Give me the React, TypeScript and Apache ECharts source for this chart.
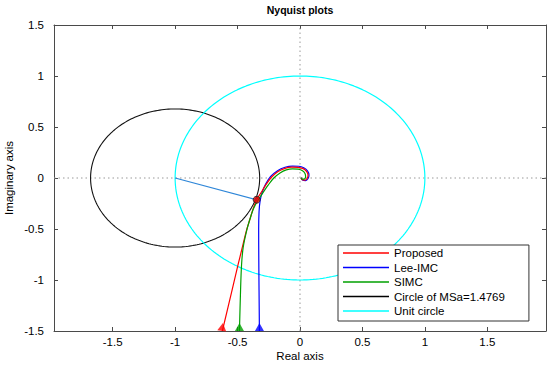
import React, { useEffect, useRef } from "react";
import * as echarts from "echarts";

const FONT = "'Liberation Sans', Arial, sans-serif";

const xTicks = [-1.5, -1, -0.5, 0, 0.5, 1, 1.5];
const legendNames = ["Proposed", "Lee-IMC", "SIMC", "Circle of MSa=1.4769", "Unit circle"];

const msa = 1.4769;
const msaCenter: [number, number] = [-1, 0];
const unitCenter: [number, number] = [0, 0];

const proposed: [number, number][] = [
  [0.008, 0.002], [0.018, -0.016], [0.04, -0.02], [0.058, -0.002], [0.064, 0.03],
  [0.052, 0.065], [0.025, 0.092], [-0.015, 0.105], [-0.065, 0.106], [-0.12, 0.095],
  [-0.175, 0.063], [-0.225, 0.012], [-0.27, -0.06], [-0.31, -0.14], [-0.347, -0.213],
  [-0.375, -0.3], [-0.4, -0.4], [-0.43, -0.52], [-0.466, -0.7], [-0.496, -0.85],
  [-0.544, -1.1], [-0.622, -1.5],
];

const leeImc: [number, number][] = [
  [0.008, 0.002], [0.02, -0.02], [0.045, -0.025], [0.065, -0.005], [0.072, 0.03],
  [0.06, 0.07], [0.03, 0.1], [-0.01, 0.115], [-0.06, 0.117], [-0.12, 0.105],
  [-0.18, 0.072], [-0.235, 0.015], [-0.275, -0.06], [-0.303, -0.14], [-0.32, -0.23],
  [-0.328, -0.33], [-0.331, -0.5], [-0.33, -0.8], [-0.328, -1.1], [-0.325, -1.5],
];

const simc: [number, number][] = [
  [0.008, 0.002], [0.018, -0.012], [0.035, -0.01], [0.045, 0.012], [0.04, 0.045],
  [0.02, 0.072], [-0.015, 0.087], [-0.06, 0.09], [-0.11, 0.08], [-0.16, 0.05],
  [-0.21, 0.0], [-0.255, -0.07], [-0.3, -0.15], [-0.34, -0.225], [-0.372, -0.3],
  [-0.4, -0.4], [-0.428, -0.52], [-0.455, -0.68], [-0.468, -0.85], [-0.476, -1.1],
  [-0.485, -1.5],
];

const msPoint: [number, number] = [-0.347, -0.213];
const arrowY = -1.461;

function circle(c: [number, number], r: number): [number, number][] {
  const pts: [number, number][] = [];
  for (let i = 0; i <= 240; i++) {
    const t = (i / 240) * Math.PI * 2;
    pts.push([c[0] + r * Math.cos(t), c[1] + r * Math.sin(t)]);
  }
  return pts;
}

const AX = "#4a4a4a";

export default function App() {
  const ref = useRef<HTMLDivElement>(null);
  useEffect(() => {
    const chart = echarts.init(ref.current!, null, { renderer: "svg" });
    const axisCommon = {
      type: "value" as const,
      splitLine: { show: false },
      axisLine: { show: true, onZero: false, lineStyle: { color: AX, width: 1 } },
    };
    const lineSeries = (name: string, data: [number, number][], color: string, z = 2) => ({
      name,
      type: "line",
      data,
      showSymbol: false,
      symbol: "none",
      smooth: 0.3,
      z,
      lineStyle: { color, width: 1.2 },
      itemStyle: { color },
      silent: true,
    });
    const option: any = {
      animation: false,
      backgroundColor: "#ffffff",
      textStyle: { fontFamily: FONT },
      grid: { left: 54, right: 4, top: 25, bottom: 35 },
      xAxis: [
        {
          ...axisCommon,
          min: -1.97,
          max: 1.97,
          position: "bottom",
          axisTick: { show: true, inside: true, length: 4, customValues: xTicks, lineStyle: { color: AX } },
          axisLabel: { customValues: xTicks, margin: 5, color: "#000", fontSize: 11.5, fontFamily: FONT },
        },
        {
          ...axisCommon,
          min: -1.97,
          max: 1.97,
          position: "top",
          axisTick: { show: true, inside: true, length: 4, customValues: xTicks, lineStyle: { color: AX } },
          axisLabel: { show: false },
        },
      ],
      yAxis: [
        {
          ...axisCommon,
          min: -1.5,
          max: 1.5,
          interval: 0.5,
          position: "left",
          axisTick: { show: true, inside: true, length: 4, lineStyle: { color: AX } },
          axisLabel: { margin: 10, color: "#000", fontSize: 11.5, fontFamily: FONT },
        },
        {
          ...axisCommon,
          min: -1.5,
          max: 1.5,
          interval: 0.5,
          position: "right",
          axisTick: { show: true, inside: true, length: 4, lineStyle: { color: AX } },
          axisLabel: { show: false },
        },
      ],
      legend: {
        data: legendNames,
        orient: "vertical",
        left: 338,
        top: 245,
        icon: "rect",
        itemWidth: 46,
        itemHeight: 1.5,
        itemGap: 2.5,
        padding: [2, 24, 4, 5],
        borderColor: "#333",
        borderWidth: 1,
        backgroundColor: "#fff",
        selectedMode: false,
        textStyle: { fontSize: 11.5, lineHeight: 12, color: "#000", fontFamily: FONT },
      },
      graphic: [
        {
          type: "text",
          x: 300,
          y: 10,
          style: { text: "Nyquist plots", fontSize: 10.5, fontWeight: "bold", fontFamily: FONT, fill: "#000", align: "center", verticalAlign: "middle" },
        },
        {
          type: "text",
          x: 300,
          y: 356,
          style: { text: "Real axis", fontSize: 11.5, fontFamily: FONT, fill: "#000", align: "center", verticalAlign: "middle" },
        },
        {
          type: "text",
          x: 9,
          y: 178,
          rotation: Math.PI / 2,
          style: { text: "Imaginary axis", fontSize: 11.5, fontFamily: FONT, fill: "#000", align: "center", verticalAlign: "middle" },
        },
      ],
      series: [
        {
          name: "zeroX",
          type: "line",
          data: [[-1.97, 0], [1.97, 0]],
          showSymbol: false,
          symbol: "none",
          lineStyle: { color: "#999", width: 1, type: [1.5, 3] },
          silent: true,
          z: 1,
        },
        {
          name: "zeroY",
          type: "line",
          data: [[0, -1.5], [0, 1.5]],
          showSymbol: false,
          symbol: "none",
          lineStyle: { color: "#999", width: 1, type: [1.5, 3] },
          silent: true,
          z: 1,
        },
        lineSeries("Proposed", proposed, "#ff0000", 4),
        lineSeries("Lee-IMC", leeImc, "#0000ff", 3),
        lineSeries("SIMC", simc, "#00a000", 5),
        { ...lineSeries("Circle of MSa=1.4769", circle(msaCenter, 1 / msa), "#000000", 2), smooth: false, lineStyle: { color: "#111", width: 1.1 } },
        { ...lineSeries("Unit circle", circle(unitCenter, 1), "#00ffff", 2), smooth: false },
        {
          name: "radius",
          type: "line",
          data: [msaCenter, msPoint],
          showSymbol: false,
          symbol: "none",
          lineStyle: { color: "#2e86d8", width: 1.2 },
          silent: true,
          z: 6,
        },
        {
          name: "arrows",
          type: "scatter",
          symbol: "triangle",
          symbolSize: [9, 8],
          silent: true,
          z: 7,
          data: [
            { value: [proposed[proposed.length - 1][0], arrowY], itemStyle: { color: "#ff0000" }, symbolRotate: -8 },
            { value: [simc[simc.length - 1][0], arrowY], itemStyle: { color: "#00a000" } },
            { value: [leeImc[leeImc.length - 1][0], arrowY], itemStyle: { color: "#0000ff" } },
          ],
        },
        {
          name: "msPoint",
          type: "scatter",
          symbol: "circle",
          symbolSize: 7,
          silent: true,
          z: 8,
          data: [msPoint],
          itemStyle: { color: "#e00000", borderColor: "#222", borderWidth: 1 },
        },
      ],
    };
    chart.setOption(option);
    return () => chart.dispose();
  }, []);
  return <div ref={ref} style={{ position: "fixed", left: 0, top: 0, width: 550, height: 366 }} />;
}
